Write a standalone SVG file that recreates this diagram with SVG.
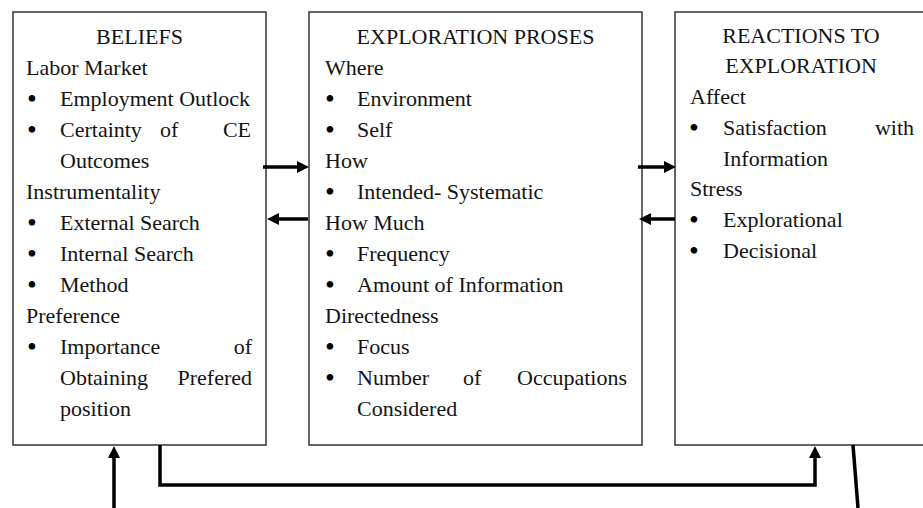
<svg xmlns="http://www.w3.org/2000/svg" width="923" height="508" viewBox="0 0 923 508">
  <defs>
    <style>
      .box { fill: #fff; stroke: #333; stroke-width: 1.5; }
      .t { font-family: "Liberation Serif", "Times New Roman", serif; font-size: 22px; fill: #141414; }
      .b { font-family: "Liberation Serif", "Times New Roman", serif; font-size: 28px; fill: #000; }
      .c { text-anchor: middle; }
      .e { text-anchor: end; }
      .link { fill: none; stroke: #000; stroke-width: 3.5; }
    </style>
    <marker id="head" markerUnits="userSpaceOnUse" markerWidth="12" markerHeight="12" refX="0" refY="6" orient="auto">
      <path d="M0,0 L12,6 L0,12 z" fill="#000"/>
    </marker>
  </defs>
  <rect width="923" height="508" fill="#fff"/>

  <!-- Beliefs -->
  <g id="beliefs">
    <rect class="box" x="13" y="12" width="253" height="433"/>
    <text class="t c" x="139.5" y="44">BELIEFS</text>
    <text class="t" x="26" y="75">Labor Market</text>
    <text class="b" x="27" y="108">•</text>
    <text class="t" x="60" y="106">Employment Outlock</text>
    <text class="b" x="27" y="139">•</text>
    <text class="t" x="60" y="137">Certainty</text>
    <text class="t" x="160" y="137">of</text>
    <text class="t e" x="251" y="137">CE</text>
    <text class="t" x="60" y="168">Outcomes</text>
    <text class="t" x="26" y="199">Instrumentality</text>
    <text class="b" x="27" y="232">•</text>
    <text class="t" x="60" y="230">External Search</text>
    <text class="b" x="27" y="263">•</text>
    <text class="t" x="60" y="261">Internal Search</text>
    <text class="b" x="27" y="294">•</text>
    <text class="t" x="60" y="292">Method</text>
    <text class="t" x="26" y="323">Preference</text>
    <text class="b" x="27" y="356">•</text>
    <text class="t" x="60" y="354">Importance</text>
    <text class="t e" x="252" y="354">of</text>
    <text class="t" x="60" y="385">Obtaining</text>
    <text class="t e" x="252" y="385">Prefered</text>
    <text class="t" x="60" y="416">position</text>
  </g>

  <!-- Exploration process -->
  <g id="exploration">
    <rect class="box" x="309" y="12" width="333" height="433"/>
    <text class="t c" x="475.5" y="44">EXPLORATION PROSES</text>
    <text class="t" x="325" y="75">Where</text>
    <text class="b" x="325" y="108">•</text>
    <text class="t" x="357" y="106">Environment</text>
    <text class="b" x="325" y="139">•</text>
    <text class="t" x="357" y="137">Self</text>
    <text class="t" x="325" y="168">How</text>
    <text class="b" x="325" y="201">•</text>
    <text class="t" x="357" y="199">Intended- Systematic</text>
    <text class="t" x="325" y="230">How Much</text>
    <text class="b" x="325" y="263">•</text>
    <text class="t" x="357" y="261">Frequency</text>
    <text class="b" x="325" y="294">•</text>
    <text class="t" x="357" y="292">Amount of Information</text>
    <text class="t" x="325" y="323">Directedness</text>
    <text class="b" x="325" y="356">•</text>
    <text class="t" x="357" y="354">Focus</text>
    <text class="b" x="325" y="387">•</text>
    <text class="t" x="357" y="385">Number</text>
    <text class="t" x="463" y="385">of</text>
    <text class="t e" x="627" y="385">Occupations</text>
    <text class="t" x="357" y="416">Considered</text>
  </g>

  <!-- Reactions to exploration -->
  <g id="reactions">
    <rect class="box" x="675" y="12" width="262" height="433"/>
    <text class="t c" x="801" y="43">REACTIONS TO</text>
    <text class="t c" x="801" y="73">EXPLORATION</text>
    <text class="t" x="690" y="104">Affect</text>
    <text class="b" x="689" y="137">•</text>
    <text class="t" x="723" y="135">Satisfaction</text>
    <text class="t e" x="914" y="135">with</text>
    <text class="t" x="723" y="166">Information</text>
    <text class="t" x="690" y="196">Stress</text>
    <text class="b" x="689" y="229">•</text>
    <text class="t" x="723" y="227">Explorational</text>
    <text class="b" x="689" y="260">•</text>
    <text class="t" x="723" y="258">Decisional</text>
  </g>

  <!-- Connectors -->
  <g id="connectors">
    <line class="link" x1="263" y1="167" x2="297" y2="167" marker-end="url(#head)"/>
    <line class="link" x1="308" y1="219" x2="279" y2="219" marker-end="url(#head)"/>
    <line class="link" x1="638" y1="167" x2="664" y2="167" marker-end="url(#head)"/>
    <line class="link" x1="675" y1="219" x2="651" y2="219" marker-end="url(#head)"/>
    <line class="link" x1="114" y1="508" x2="114" y2="458" marker-end="url(#head)"/>
    <polyline class="link" points="160,445 160,485 815,485 815,458" marker-end="url(#head)"/>
    <line class="link" x1="853" y1="445" x2="858" y2="508"/>
  </g>
</svg>
